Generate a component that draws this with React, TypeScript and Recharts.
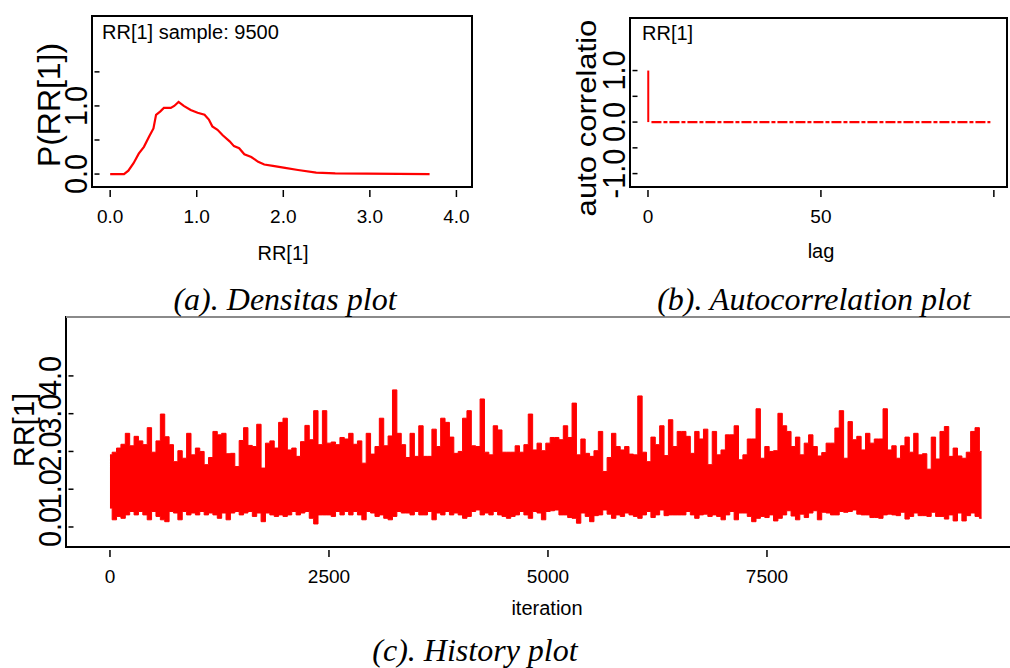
import React from 'react';
import {
  LineChart,
  Line,
  ComposedChart,
  Bar,
  AreaChart,
  Area,
  XAxis,
  YAxis,
  ReferenceArea,
  ReferenceLine
} from 'recharts';

const SANS = "'Liberation Sans', Arial, Helvetica, sans-serif";
const SERIF = "'Liberation Serif', 'Times New Roman', serif";
const RED = '#ff0000';

// (a) density of RR[1]
const rrGrid = [
  0.0, 0.16, 0.21, 0.27, 0.33, 0.39, 0.45, 0.5, 0.53, 0.58, 0.62, 0.7, 0.74, 0.79, 0.85, 0.93, 1.01, 1.09,
  1.14, 1.18, 1.24, 1.3, 1.38, 1.43, 1.49, 1.55, 1.63, 1.71, 1.78, 1.88, 2.02, 2.17, 2.38, 2.6, 3.69
];
const rrDensity = [
  0.0, 0.0, 0.05, 0.16, 0.3, 0.4, 0.55, 0.67, 0.87, 0.92, 0.97, 0.97, 1.0, 1.06, 1.0, 0.94, 0.9, 0.87,
  0.8, 0.7, 0.65, 0.57, 0.48, 0.41, 0.38, 0.29, 0.25, 0.18, 0.14, 0.12, 0.09, 0.06, 0.02, 0.01, 0.0
];
const densityXTicks = [0, 1, 2, 3, 4];
const densityXLabels = ['0.0', '1.0', '2.0', '3.0', '4.0'];
const densityYTicks = [0, 0.5, 1, 1.5];
const densityYLabels = ['0.0', '', '1.0', ''];

// (b) autocorrelation, lags 0..99
const acfValues = [
  1.0, 0.0, 0.0, 0.0, 0.0, 0.0, 0.0, 0.0, 0.0, 0.0, 0.0, 0.0, 0.0, 0.0, 0.0, 0.0, 0.0, 0.0, 0.0, 0.0,
  0.0, 0.0, 0.0, 0.0, 0.0, 0.0, 0.0, 0.0, 0.0, 0.0, 0.0, 0.0, 0.0, 0.0, 0.0, 0.0, 0.0, 0.0, 0.0, 0.0,
  0.0, 0.0, 0.0, 0.0, 0.0, 0.0, 0.0, 0.0, 0.0, 0.0, 0.0, 0.0, 0.0, 0.0, 0.0, 0.0, 0.0, 0.0, 0.0, 0.0,
  0.0, 0.0, 0.0, 0.0, 0.0, 0.0, 0.0, 0.0, 0.0, 0.0, 0.0, 0.0, 0.0, 0.0, 0.0, 0.0, 0.0, 0.0, 0.0, 0.0,
  0.0, 0.0, 0.0, 0.0, 0.0, 0.0, 0.0, 0.0, 0.0, 0.0, 0.0, 0.0, 0.0, 0.0, 0.0, 0.0, 0.0, 0.0, 0.0, 0.0
];
const acfXTicks = [0, 50, 100];
const acfXLabels = ['0', '50', ''];
const acfYTicks = [-1, -0.5, 0, 0.5, 1];
const acfYLabels = ['-1.0', '', '0.0', '', '1.0'];

// (c) history: per 50-iteration block, the highest and lowest sampled value
const traceStep = 50;
const traceHigh = [
  1.91, 1.98, 2.09, 2.19, 2.48, 2.15, 2.4, 2.28, 2.18, 2.63, 1.98, 2.28, 2.99, 2.39, 2.18, 1.73, 2.02, 1.82, 2.48, 1.91,
  2.09, 2.0, 1.65, 1.84, 2.53, 2.44, 2.48, 1.94, 1.95, 1.6, 2.29, 2.63, 2.16, 2.13, 2.72, 1.56, 2.22, 2.28, 2.09, 2.77,
  2.88, 2.04, 2.09, 1.87, 2.26, 2.69, 2.31, 3.08, 2.18, 3.08, 2.22, 2.25, 2.18, 2.37, 2.33, 2.48, 2.19, 2.28, 1.69, 2.48,
  1.93, 2.13, 2.88, 2.15, 2.41, 3.63, 2.48, 2.18, 1.84, 2.48, 1.87, 2.68, 1.87, 1.87, 2.59, 2.13, 2.88, 2.77, 2.38, 1.95,
  2.0, 2.88, 3.08, 2.15, 2.13, 3.39, 1.98, 1.91, 2.68, 2.57, 1.98, 1.98, 1.98, 2.15, 1.98, 2.18, 2.99, 2.04, 2.22, 2.02,
  2.22, 2.37, 2.37, 2.31, 2.68, 2.37, 3.28, 1.91, 2.33, 1.95, 1.87, 2.02, 2.53, 1.47, 1.84, 2.48, 2.13, 2.04, 2.13, 1.93,
  1.91, 3.47, 1.98, 1.73, 2.38, 2.18, 2.68, 1.89, 2.84, 2.13, 2.53, 2.53, 2.4, 1.95, 2.53, 2.33, 2.59, 1.65, 2.53, 1.91,
  2.04, 2.44, 2.44, 2.68, 1.78, 1.91, 2.33, 2.33, 3.13, 1.82, 2.13, 2.0, 2.02, 3.01, 2.68, 2.53, 2.13, 2.38, 1.91, 2.22,
  2.44, 2.13, 1.88, 1.97, 2.22, 2.22, 2.62, 3.08, 1.82, 2.79, 2.31, 2.4, 2.04, 2.48, 2.22, 2.33, 2.33, 3.13, 2.04, 2.15,
  1.82, 2.15, 2.38, 1.98, 2.48, 1.91, 1.94, 1.53, 2.38, 1.8, 2.53, 2.66, 1.87, 2.09, 1.88, 1.82, 1.98, 2.53, 2.63, 2.0
];
const traceLow = [
  0.5, 0.19, 0.28, 0.23, 0.32, 0.41, 0.32, 0.41, 0.32, 0.19, 0.41, 0.28, 0.19, 0.14, 0.41, 0.37, 0.19, 0.41, 0.32, 0.37,
  0.32, 0.41, 0.32, 0.37, 0.32, 0.23, 0.37, 0.19, 0.37, 0.41, 0.32, 0.37, 0.41, 0.28, 0.37, 0.14, 0.37, 0.32, 0.28, 0.32,
  0.28, 0.32, 0.41, 0.32, 0.37, 0.41, 0.23, 0.08, 0.32, 0.32, 0.32, 0.28, 0.41, 0.32, 0.41, 0.32, 0.41, 0.32, 0.19, 0.41,
  0.37, 0.28, 0.32, 0.23, 0.19, 0.28, 0.41, 0.37, 0.37, 0.32, 0.41, 0.32, 0.32, 0.41, 0.19, 0.37, 0.32, 0.41, 0.32, 0.37,
  0.32, 0.23, 0.28, 0.41, 0.45, 0.32, 0.37, 0.32, 0.41, 0.32, 0.28, 0.23, 0.28, 0.32, 0.41, 0.32, 0.23, 0.41, 0.37, 0.19,
  0.41, 0.43, 0.45, 0.32, 0.32, 0.25, 0.23, 0.1, 0.37, 0.28, 0.14, 0.3, 0.32, 0.45, 0.34, 0.23, 0.32, 0.28, 0.37, 0.32,
  0.28, 0.23, 0.32, 0.41, 0.25, 0.32, 0.45, 0.3, 0.32, 0.32, 0.32, 0.32, 0.41, 0.32, 0.23, 0.32, 0.34, 0.28, 0.32, 0.28,
  0.19, 0.32, 0.41, 0.19, 0.37, 0.37, 0.28, 0.14, 0.23, 0.28, 0.25, 0.32, 0.16, 0.23, 0.32, 0.43, 0.29, 0.19, 0.34, 0.25,
  0.37, 0.43, 0.19, 0.39, 0.37, 0.32, 0.32, 0.41, 0.39, 0.41, 0.45, 0.34, 0.32, 0.32, 0.25, 0.25, 0.23, 0.32, 0.34, 0.32,
  0.3, 0.39, 0.21, 0.28, 0.37, 0.3, 0.3, 0.28, 0.39, 0.28, 0.28, 0.21, 0.32, 0.16, 0.37, 0.16, 0.3, 0.37, 0.28, 0.23
];
const historyXTicks = [0, 2500, 5000, 7500];
const historyXLabels = ['0', '2500', '5000', '7500'];
const historyYTicks = [0, 1, 2, 3, 4];
const historyYLabels = ['0.0', '1.0', '2.0', '3.0', '4.0'];

const densityData = rrGrid.map((rr, i) => ({ rr, p: rrDensity[i] }));
const acfData = acfValues.map((v, lag) => ({ lag, acf: v, acfLine: lag === 0 ? null : v }));
const traceData = traceHigh.map((hi, i) => ({ iter: i * traceStep, range: [traceLow[i], hi] }));

// axis ranges, chosen so the frames sit where the original ones do
const densityXDomain = [-0.21, 4.18];
const densityYDomain = [-0.19, 2.32];
const acfXDomain = [-5.2, 103.8];
const acfYDomain = [-1.26, 2.02];
const historyXDomain = [-502, 10320];
const historyYDomain = [-0.53, 5.56];

const makeXTick = (ticks: number[], labels: string[]) => (props: any) => {
  const { x, y, payload } = props;
  const label = labels[ticks.indexOf(payload.value)] || '';
  return (
    <g>
      <line x1={x} x2={x} y1={y + 3} y2={y + 10} stroke="#000" strokeWidth={1.5} />
      {label && (
        <text x={x} y={y + 36} textAnchor="middle" fontSize={19} fontFamily={SANS} fill="#000">
          {label}
        </text>
      )}
    </g>
  );
};

const makeYTick = (ticks: number[], labels: string[]) => (props: any) => {
  const { x, y, payload } = props;
  const label = labels[ticks.indexOf(payload.value)] || '';
  return (
    <g>
      <line x1={x + 2.5} x2={x + 7.5} y1={y} y2={y} stroke="#000" strokeWidth={1.5} />
      {label && (
        <text
          transform={`translate(${x - 5},${y}) rotate(-90) scale(0.9,1)`}
          textAnchor="middle"
          fontSize={32}
          fontFamily={SANS}
          fill="#000"
        >
          {label}
        </text>
      )}
    </g>
  );
};

const Text = ({ left, top, size = 20, center = false, children }: any) => (
  <div
    style={{
      position: 'absolute',
      left,
      top,
      fontSize: size,
      lineHeight: 1,
      fontFamily: SANS,
      whiteSpace: 'nowrap',
      transform: center ? 'translateX(-50%)' : undefined
    }}
  >
    {children}
  </div>
);

const VText = ({ cx, cy, size, stretch = 1, children }: any) => (
  <div
    style={{
      position: 'absolute',
      left: cx,
      top: cy,
      fontSize: size,
      lineHeight: 1,
      fontFamily: SANS,
      whiteSpace: 'nowrap',
      transform: `translate(-50%, -50%) rotate(-90deg) scaleX(${stretch})`
    }}
  >
    {children}
  </div>
);

const Caption = ({ cx, top, children }: any) => (
  <div
    style={{
      position: 'absolute',
      left: cx,
      top,
      transform: 'translateX(-50%)',
      fontSize: 32,
      lineHeight: 1,
      fontFamily: SERIF,
      fontStyle: 'italic',
      whiteSpace: 'nowrap'
    }}
  >
    {children}
  </div>
);

const Frame = ({ xd, yd }: { xd: number[]; yd: number[] }) => (
  <ReferenceArea
    x1={xd[0]}
    x2={xd[1]}
    y1={yd[0]}
    y2={yd[1]}
    fill="none"
    stroke="#000"
    strokeWidth={2}
    ifOverflow="visible"
  />
);

export default function App() {
  return (
    <div
      style={{
        position: 'absolute',
        left: 0,
        top: 0,
        width: 1010,
        height: 668,
        overflow: 'hidden',
        background: '#fff',
        color: '#000'
      }}
    >
      {/* (a) density */}
      <div style={{ position: 'absolute', left: 0, top: 0 }}>
        <LineChart width={480} height={280} data={densityData} margin={{ top: 16, right: 8, bottom: 0, left: 0 }}>
          <XAxis
            dataKey="rr"
            type="number"
            domain={densityXDomain}
            allowDataOverflow
            ticks={densityXTicks}
            interval={0}
            height={93}
            axisLine={false}
            tickLine={false}
            tickSize={0}
            tickMargin={0}
            tick={makeXTick(densityXTicks, densityXLabels)}
          />
          <YAxis
            type="number"
            domain={densityYDomain}
            allowDataOverflow
            ticks={densityYTicks}
            interval={0}
            width={92}
            axisLine={false}
            tickLine={false}
            tickSize={0}
            tickMargin={0}
            tick={makeYTick(densityYTicks, densityYLabels)}
          />
          <Frame xd={densityXDomain} yd={densityYDomain} />
          <Line
            type="linear"
            dataKey="p"
            stroke={RED}
            strokeWidth={2.2}
            dot={false}
            isAnimationActive={false}
          />
        </LineChart>
      </div>
      <Text left={102} top={22}>RR[1] sample: 9500</Text>
      <VText cx={49} cy={105} size={31} stretch={1.03}>P(RR[1])</VText>
      <Text left={283} top={243} center>RR[1]</Text>

      {/* (b) autocorrelation */}
      <div style={{ position: 'absolute', left: 560, top: 0 }}>
        <ComposedChart width={450} height={280} data={acfData} margin={{ top: 18, right: 3, bottom: 0, left: 0 }}>
          <XAxis
            dataKey="lag"
            type="number"
            domain={acfXDomain}
            allowDataOverflow
            ticks={acfXTicks}
            interval={0}
            height={93}
            axisLine={false}
            tickLine={false}
            tickSize={0}
            tickMargin={0}
            tick={makeXTick(acfXTicks, acfXLabels)}
          />
          <YAxis
            type="number"
            domain={acfYDomain}
            allowDataOverflow
            ticks={acfYTicks}
            interval={0}
            width={70}
            axisLine={false}
            tickLine={false}
            tickSize={0}
            tickMargin={0}
            tick={makeYTick(acfYTicks, acfYLabels)}
          />
          <Frame xd={acfXDomain} yd={acfYDomain} />
          <Bar dataKey="acf" fill={RED} barSize={2} isAnimationActive={false} />
          <Line
            type="linear"
            dataKey="acfLine"
            stroke={RED}
            strokeWidth={2.2}
            strokeDasharray="10 2 4 2"
            dot={false}
            connectNulls={false}
            isAnimationActive={false}
          />
        </ComposedChart>
      </div>
      <Text left={642} top={23}>RR[1]</Text>
      <VText cx={587} cy={118} size={27} stretch={1.15}>auto correlatio</VText>
      <Text left={821} top={241} center>lag</Text>

      {/* (c) history */}
      <div style={{ position: 'absolute', left: 0, top: 300 }}>
        <AreaChart width={1016} height={340} data={traceData} margin={{ top: 17, right: 2, bottom: 0, left: 0 }}>
          <XAxis
            dataKey="iter"
            type="number"
            domain={historyXDomain}
            allowDataOverflow
            ticks={historyXTicks}
            interval={0}
            height={93}
            axisLine={false}
            tickLine={false}
            tickSize={0}
            tickMargin={0}
            tick={makeXTick(historyXTicks, historyXLabels)}
          />
          <YAxis
            type="number"
            domain={historyYDomain}
            allowDataOverflow
            ticks={historyYTicks}
            interval={0}
            width={66}
            axisLine={false}
            tickLine={false}
            tickSize={0}
            tickMargin={0}
            tick={makeYTick(historyYTicks, historyYLabels)}
          />
          <Area
            type="step"
            dataKey="range"
            stroke={RED}
            strokeWidth={1}
            fill={RED}
            fillOpacity={1}
            isAnimationActive={false}
          />
          <Frame xd={historyXDomain} yd={historyYDomain} />
          <ReferenceLine y={historyYDomain[1]} stroke="#8a8a8a" strokeWidth={2} ifOverflow="visible" />
        </AreaChart>
      </div>
      <VText cx={24} cy={430} size={30} stretch={0.97}>RR[1]</VText>
      <Text left={547} top={598} center>iteration</Text>

      <Caption cx={285} top={283}>(a). Densitas plot</Caption>
      <Caption cx={814} top={283}>(b). Autocorrelation plot</Caption>
      <Caption cx={475} top={634}>(c). History plot</Caption>
    </div>
  );
}
